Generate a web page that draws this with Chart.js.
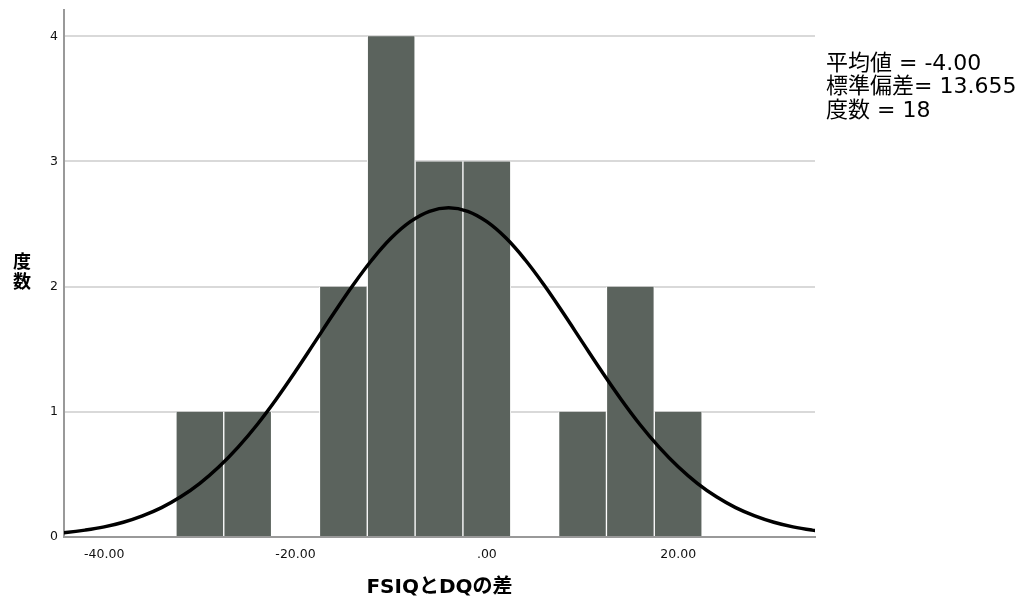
<!DOCTYPE html>
<html>
<head>
<meta charset="utf-8">
<script src="https://cdn.jsdelivr.net/npm/chart.js@4.4.0/dist/chart.umd.min.js"></script>
<style>
    html, body { margin: 0; padding: 0; background: #fff; }
    #wrap { width: 1026px; height: 601px; position: relative; }
</style>
</head>
<body>
<div id="wrap"><canvas id="histChart"></canvas></div>
<script>
// Klassenmitten (Breite 5) und Häufigkeiten
const binCenters = [-30, -25, -20, -15, -10, -5, 0, 5, 10, 15, 20];
const binCounts  = [1, 1, 0, 2, 4, 3, 3, 0, 1, 2, 1];

// Normalverteilungskurve
const curveX = [-46, -44, -42, -40, -38, -36, -34, -32, -30, -28, -26, -24, -22, -20, -18, -16, -14, -12, -10, -8, -6, -4,
                -2, 0, 2, 4, 6, 8, 10, 12, 14, 16, 18, 20, 22, 24, 26, 28, 30, 32, 34, 36];
const curveY = [0.023, 0.036, 0.055, 0.081, 0.118, 0.169, 0.235, 0.321, 0.429, 0.561, 0.718, 0.899, 1.103, 1.324, 1.555, 1.787, 2.011, 2.215, 2.388, 2.519, 2.602, 2.630,
                2.602, 2.519, 2.388, 2.215, 2.011, 1.787, 1.555, 1.324, 1.103, 0.899, 0.718, 0.561, 0.429, 0.321, 0.235, 0.169, 0.118, 0.081, 0.055, 0.036];

// Achsenbeschriftungen
const xTicks = [-40, -20, 0, 20];
const yTicks = [0, 1, 2, 3, 4];

const statLines = ['平均値 = -4.00', '標準偏差= 13.655', '度数 = 18'];
const xTitle = 'FSIQとDQの差';
const yTitle = ['度', '数'];

// Text rechts oben und vertikaler Achsentitel
const extraText = {
    id: 'extraText',
    afterDraw(chart) {
        const ctx = chart.ctx;
        ctx.save();
        ctx.fillStyle = '#000';
        ctx.textBaseline = 'middle';
        ctx.textAlign = 'left';
        ctx.font = '22px "DejaVu Sans", "Noto Sans CJK JP"';
        statLines.forEach((t, i) => ctx.fillText(t, 826, 64 + i * 23.5));

        ctx.font = 'bold 18px "Noto Sans CJK JP"';
        ctx.textAlign = 'center';
        yTitle.forEach((c, i) => ctx.fillText(c, 22, 261 + i * 20));
        ctx.restore();
    }
};

const fmtX = v => {
    let s = Number(v).toFixed(2);
    if (s === '0.00' || s === '-0.00') s = '.00';
    return s;
};

const ctx = document.getElementById('histChart').getContext('2d');
new Chart(ctx, {
    type: 'bar',
    data: {
        datasets: [{
            type: 'line',
            data: curveX.map((x, i) => ({ x: x, y: curveY[i] })),
            borderColor: '#000',
            borderWidth: 3.5,
            pointRadius: 0,
            tension: 0.4,
            fill: false,
            order: 0
        }, {
            type: 'bar',
            data: binCenters.map((x, i) => ({ x: x, y: binCounts[i] })),
            backgroundColor: '#5b635d',
            borderColor: '#fff',
            borderWidth: { left: 1, right: 1, top: 0, bottom: 0 },
            barPercentage: 1,
            categoryPercentage: 1,
            order: 1
        }]
    },
    options: {
        responsive: true,
        maintainAspectRatio: false,
        animation: false,
        layout: { padding: { left: 0, right: 211, top: 10, bottom: 0 } },
        plugins: {
            legend: { display: false },
            tooltip: { enabled: false }
        },
        scales: {
            x: {
                type: 'linear',
                offset: false,
                min: -44.2,
                max: 34.3,
                afterBuildTicks: s => { s.ticks = xTicks.map(v => ({ value: v })); },
                afterFit: s => { s.height = 64; },
                grid: { display: false, drawTicks: false },
                border: { display: true, color: '#999', width: 2 },
                ticks: {
                    padding: 10,
                    color: '#111',
                    maxRotation: 0,
                    font: { family: '"DejaVu Sans"', size: 12.5 },
                    callback: v => fmtX(v)
                },
                title: {
                    display: true,
                    text: xTitle,
                    color: '#000',
                    font: { family: '"DejaVu Sans", "Noto Sans CJK JP"', size: 20, weight: 'bold' },
                    padding: { top: 0, bottom: 1 }
                }
            },
            y: {
                min: 0,
                max: 4.21,
                afterBuildTicks: s => { s.ticks = yTicks.map(v => ({ value: v })); },
                afterFit: s => { s.width = 64; s.paddingTop = 0; s.paddingBottom = 0; },
                grid: { color: '#d9d9d9', lineWidth: 2, drawTicks: false },
                border: { display: true, color: '#999', width: 2 },
                ticks: {
                    padding: 6,
                    color: '#111',
                    font: { family: '"DejaVu Sans"', size: 12.5 }
                }
            }
        }
    },
    plugins: [extraText]
});
</script>
</body>
</html>
